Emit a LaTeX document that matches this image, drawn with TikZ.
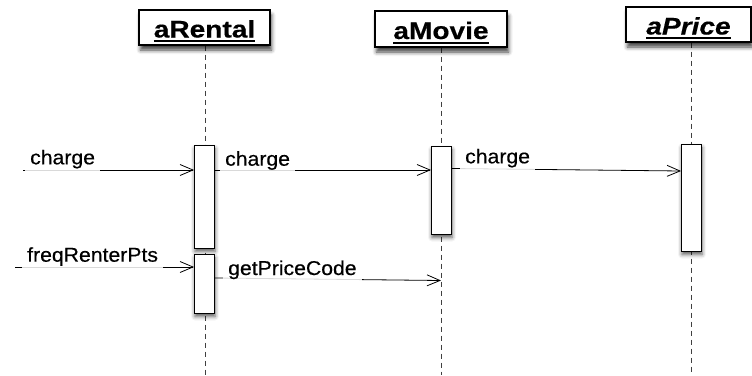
\documentclass[tikz,border=0pt]{standalone}
\usepackage{fontspec}
\setmainfont[FakeStretch=1.06,FakeBold=0.4]{Liberation Sans}
\newfontfamily\hdrfont[FakeStretch=1.17,FakeBold=0.4]{Liberation Sans}
\usetikzlibrary{arrows.meta,shadows.blur,backgrounds}

% underlined header text with a heavier rule than \underline
\newcommand\hdrul[1]{\setbox0\hbox{#1}\rlap{\rule[-4.6pt]{\wd0}{2pt}}\box0}

\begin{document}
\begin{tikzpicture}[x=1pt,y=-1pt,
  header/.style={draw=black, line width=1.2pt, fill=white, inner sep=0pt,
    text height=20pt, text depth=0pt,
    font=\hdrfont\fontsize{24}{28}\selectfont\bfseries,
    blur shadow={shadow xshift=1.5pt, shadow yshift=-5pt, shadow blur radius=4pt, shadow opacity=75}},
  actbar/.style={draw=black, line width=0.9pt, fill=white, inner sep=0pt, minimum width=20pt,
    blur shadow={shadow xshift=0.5pt, shadow yshift=-3.5pt, shadow blur radius=4pt, shadow opacity=65}},
  lifeline/.style={draw=black!75, line width=0.9pt, dash pattern=on 5pt off 4pt},
  msg/.style={draw=black, line width=0.8pt, -{Straight Barb[length=13pt,width=11pt,line width=0.8pt]}},
  msglabel/.style={fill=white, fill opacity=0.85, text opacity=1, inner xsep=5pt, inner ysep=0.5pt,
    text height=15pt, text depth=7pt, font=\fontsize{20}{24}\selectfont, anchor=base west}]

\useasboundingbox (0,0) rectangle (752,375);

% object headers
\node[header, minimum width=131pt, minimum height=35pt] (hr) at (204.5,27.5) {\hdrul{aRental}};
\node[header, minimum width=132pt, minimum height=36pt] (hm) at (441,29) {\hdrul{aMovie}};
\node[header, minimum width=125pt, minimum height=35pt] (hp) at (688.5,24.5) {\hdrul{\itshape aPrice}};

% lifeline ends
\coordinate (rEnd) at (205,375);
\coordinate (mEnd) at (441,375);
\coordinate (pEnd) at (691,375);

% activation bars
\node[actbar, minimum height=103pt] (b1) at (204.5,196.5) {};
\node[actbar, minimum height=59pt] (b2) at (204.5,283.5) {};
\node[actbar, minimum height=88pt] (bm) at (441.5,190) {};
\node[actbar, minimum height=107pt] (bp) at (691.5,197.5) {};

\begin{scope}[on background layer]
  \draw[lifeline] (hr.south -| rEnd) -- (rEnd);
  \draw[lifeline] (hm.south -| mEnd) -- (mEnd);
  \draw[lifeline] (hp.south -| pEnd) -- (pEnd);
\end{scope}

% message levels
\coordinate (s1) at (23,170);
\coordinate (y2) at (0,170);
\coordinate (y3a) at (0,168.5);
\coordinate (y3b) at (0,171);
\coordinate (s4) at (15,267);
\coordinate (y5a) at (0,278);
\coordinate (e5) at (441,280.5);

% messages
\draw[msg] (s1) -- (s1 -| b1.west);
\draw[msg] (b1.east |- y2) -- (bm.west |- y2);
\draw[msg] (bm.east |- y3a) -- (bp.west |- y3b);
\draw[msg] (s4) -- (s4 -| b2.west);
\draw[msg] (b2.east |- y5a) -- (e5);

% message labels
\node[msglabel] (l1) at (25,164.3) {charge};
\node[msglabel] (l2) at (220,165.7) {charge};
\node[msglabel] (l3) at (460,163.3) {charge};
\node[msglabel] (l4) at (22,261.7) {freqRenterPts};
\node[msglabel] (l5) at (223,275) {getPriceCode};

\end{tikzpicture}
\end{document}
